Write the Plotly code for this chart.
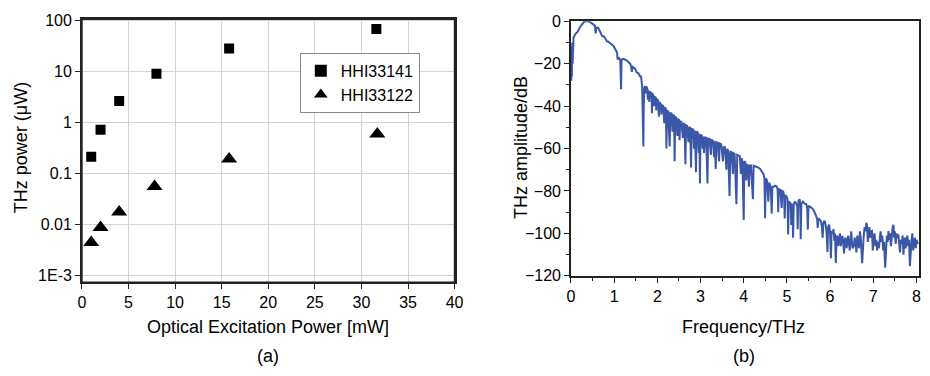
import plotly.graph_objects as go

# ---- Panel (a) data ----
power_mw = [1, 2, 4, 8, 15.8, 31.6]
hhi33141 = [0.21, 0.71, 2.6, 8.9, 28, 67]
power_mw_b = [1, 2, 4, 7.8, 15.8, 31.7]
hhi33122 = [0.0044, 0.0087, 0.0174, 0.055, 0.19, 0.59]
ytick_vals_a = [0.001, 0.01, 0.1, 1, 10, 100]
ytick_text_a = ["1E-3", "0.01", "0.1", "1", "10", "100"]

# ---- Panel (b) data: spectrum ----
freq_thz = [
    0.000, 0.008, 0.015, 0.022, 0.030, 0.038, 0.045, 0.060, 0.076, 0.100,
    0.152, 0.200, 0.267, 0.300, 0.343, 0.400, 0.457, 0.533, 0.555, 0.571,
    0.590, 0.632, 0.680, 0.724, 0.760, 0.785, 0.838, 0.860, 0.914, 0.950,
    0.990, 1.030, 1.067, 1.080, 1.105, 1.143, 1.160, 1.172, 1.219, 1.295,
    1.371, 1.390, 1.410, 1.430, 1.486, 1.520, 1.562, 1.600, 1.623, 1.650,
    1.668, 1.676, 1.685, 1.700,
    1.720, 1.735, 1.750, 1.770, 1.780, 1.795, 1.815, 1.830, 1.850, 1.867,
    1.875, 1.885, 1.910, 1.925, 1.940, 1.965, 1.975, 1.990, 2.020, 2.035,
    2.050, 2.080, 2.095, 2.110, 2.140, 2.160, 2.175, 2.200, 2.210, 2.225,
    2.250, 2.270, 2.286, 2.300, 2.330, 2.350, 2.365, 2.390, 2.400, 2.415,
    2.440, 2.465, 2.480, 2.500, 2.514, 2.530, 2.560, 2.590, 2.605, 2.630,
    2.651, 2.665, 2.690, 2.720, 2.735, 2.760, 2.781, 2.795, 2.830, 2.850,
    2.870, 2.895, 2.910, 2.940, 2.960, 2.975, 2.987, 3.000, 3.030, 3.050,
    3.065, 3.080, 3.100, 3.130, 3.162, 3.175, 3.210, 3.240, 3.255, 3.290,
    3.314, 3.330, 3.352, 3.370, 3.400, 3.430, 3.445, 3.480, 3.520, 3.540,
    3.570, 3.600, 3.615, 3.640, 3.672, 3.690, 3.720, 3.750, 3.765, 3.790,
    3.810, 3.832, 3.850, 3.880, 3.910, 3.935, 3.950, 3.970, 4.000, 4.015,
    4.040, 4.060, 4.076, 4.100, 4.120, 4.140, 4.170, 4.190, 4.213, 4.230,
    4.260, 4.300, 4.340, 4.381, 4.420, 4.440, 4.457, 4.480, 4.495, 4.510,
    4.540, 4.570, 4.590, 4.610, 4.630, 4.648, 4.665, 4.700, 4.730, 4.762,
    4.785, 4.800, 4.815, 4.850, 4.880, 4.895, 4.914, 4.935, 4.950, 4.965,
    4.990, 5.015, 5.029, 5.045, 5.067, 5.090, 5.100, 5.115, 5.130, 5.143,
    5.160, 5.190, 5.219, 5.240, 5.250, 5.265, 5.295, 5.310, 5.320, 5.335,
    5.370, 5.410, 5.448, 5.470, 5.486, 5.500, 5.540, 5.570, 5.600, 5.640,
    5.676, 5.700, 5.714, 5.730, 5.760, 5.790, 5.810, 5.829, 5.845, 5.870,
    5.900, 5.920, 5.940, 5.955, 5.981, 6.000, 6.020, 6.035, 6.060, 6.080,
    6.100, 6.115, 6.133, 6.150, 6.170, 6.190, 6.210, 6.230, 6.250, 6.270,
    6.286, 6.305, 6.324, 6.340, 6.360, 6.380, 6.400, 6.420, 6.438, 6.455,
    6.470, 6.490, 6.500, 6.520, 6.550, 6.570, 6.590, 6.610, 6.630, 6.650,
    6.670, 6.690, 6.710, 6.743, 6.760, 6.780, 6.800, 6.820, 6.840, 6.857,
    6.875, 6.890, 6.910, 6.930, 6.950, 6.971, 6.990, 7.010, 7.030, 7.050,
    7.070, 7.090, 7.110, 7.130, 7.150, 7.170, 7.190, 7.210, 7.230, 7.250,
    7.276, 7.295, 7.315, 7.335, 7.352, 7.370, 7.390, 7.410, 7.430, 7.450,
    7.467, 7.485, 7.500, 7.520, 7.540, 7.560, 7.581, 7.600, 7.620, 7.640,
    7.660, 7.680, 7.700, 7.715, 7.733, 7.750, 7.770, 7.790, 7.810, 7.830,
    7.848, 7.865, 7.886, 7.905, 7.925, 7.945, 7.965, 7.985, 8.005, 8.030,
]
amp_db = [
    -22.0, -28.0, -12.0, -26.0, -10.0, -20.0, -8.5, -7.5, -7.0, -6.0,
    -5.0, -3.0, -1.2, -0.3, 0.0, 0.0, -0.5, -1.5, -2.0, -5.7,
    -3.0, -3.0, -5.5, -7.0, -7.0, -8.0, -9.5, -9.5, -10.2, -11.0,
    -11.7, -13.5, -14.7, -18.0, -17.0, -18.5, -32.0, -18.0, -17.7, -18.5,
    -20.0, -21.0, -23.8, -21.5, -22.3, -24.0, -24.5, -26.0, -26.0, -31.0,
    -58.0, -59.0, -40.0, -31.3,
    -30.5, -34.0, -30.8, -32.0, -37.0, -32.5, -38.0, -33.0, -34.0, -33.5,
    -43.3, -34.0, -35.0, -40.0, -35.5, -36.0, -42.0, -36.5, -37.5, -45.0,
    -38.0, -39.0, -44.0, -39.5, -40.0, -48.0, -40.5, -41.5, -60.0, -42.0,
    -42.5, -50.0, -59.0, -43.3, -43.5, -52.0, -44.0, -44.5, -66.0, -45.0,
    -45.5, -54.0, -46.0, -46.5, -56.0, -47.0, -47.5, -55.0, -48.0, -48.5,
    -67.4, -49.0, -49.3, -57.0, -49.8, -50.2, -68.9, -50.5, -51.0, -60.0,
    -51.5, -71.1, -52.0, -52.5, -62.0, -53.0, -76.4, -53.5, -54.0, -60.0,
    -54.3, -62.0, -54.5, -55.0, -76.4, -55.3, -55.5, -63.0, -56.0, -56.3,
    -64.0, -56.5, -69.6, -57.0, -57.3, -66.0, -57.6, -58.0, -66.0, -59.0,
    -59.5, -70.0, -60.3, -60.8, -82.4, -61.3, -61.8, -72.0, -62.2, -62.5,
    -72.0, -86.2, -63.0, -63.3, -63.6, -72.0, -64.5, -66.0, -93.7, -66.0,
    -66.5, -75.0, -67.4, -68.0, -78.0, -68.0, -68.0, -76.0, -83.9, -68.1,
    -68.3, -68.5, -69.0, -69.6, -70.5, -71.5, -71.9, -74.0, -92.9, -74.0,
    -75.0, -85.0, -76.0, -77.1, -80.0, -90.7, -78.0, -78.0, -77.5, -77.9,
    -79.0, -90.0, -79.0, -79.5, -88.0, -80.0, -80.2, -82.0, -93.0, -82.0,
    -82.5, -84.0, -100.5, -85.0, -85.4, -86.0, -96.0, -86.0, -88.0, -102.0,
    -86.0, -85.0, -86.2, -87.0, -98.0, -85.0, -83.9, -86.0, -102.7, -86.0,
    -85.0, -86.0, -86.2, -88.0, -98.2, -87.0, -87.5, -88.0, -88.4, -90.0,
    -91.4, -93.0, -97.4, -93.0, -93.5, -94.4, -97.0, -102.0, -95.0, -94.0,
    -96.0, -100.0, -108.7, -97.0, -95.9, -100.0, -111.7, -99.0, -100.0, -98.0,
    -103.5, -100.0, -114.0, -102.0, -101.0, -106.0, -103.0, -100.0, -106.0, -103.0,
    -101.2, -104.0, -109.5, -103.0, -102.0, -107.0, -105.0, -101.0, -103.5, -108.0,
    -104.0, -99.0, -102.0, -107.0, -106.0, -102.0, -104.2, -109.0, -101.0, -104.0,
    -107.0, -99.0, -102.0, -114.0, -105.0, -101.0, -97.0, -99.0, -95.0, -96.7,
    -104.0, -100.0, -97.0, -102.0, -99.0, -98.9, -108.0, -102.0, -100.0, -106.0,
    -103.0, -108.0, -104.0, -107.0, -101.0, -99.0, -104.0, -101.0, -108.0, -104.0,
    -116.2, -106.0, -101.0, -104.0, -98.9, -103.0, -100.0, -106.0, -99.0, -97.0,
    -96.0, -102.0, -99.0, -105.0, -100.0, -102.0, -100.5, -106.0, -109.0, -103.0,
    -105.0, -101.0, -110.0, -104.0, -102.0, -107.0, -103.0, -101.0, -106.0, -103.0,
    -115.5, -106.0, -103.5, -100.0, -108.0, -104.0, -102.0, -107.0, -103.0, -105.0,
]
assert len(freq_thz) == len(amp_db)

W, H = 930, 376
FONT = "Liberation Sans, Arial, sans-serif"
LINE_BLUE = "#3A57A8"
FRAME = "#222222"

fig = go.Figure()

fig.add_trace(go.Scatter(
    x=power_mw, y=hhi33141, mode="markers", name="HHI33141",
    marker=dict(symbol="square", size=10, color="black"),
    xaxis="x", yaxis="y",
))
fig.add_trace(go.Scatter(
    x=power_mw_b, y=hhi33122, mode="markers", name="HHI33122",
    marker=dict(symbol="triangle-up", size=14, color="black"),
    xaxis="x", yaxis="y",
))
fig.add_trace(go.Scatter(
    x=freq_thz, y=amp_db, mode="lines", showlegend=False,
    line=dict(color=LINE_BLUE, width=2),
    xaxis="x2", yaxis="y2",
))


def xd(a, b):
    return [a / W, b / W]


def yd(top, bottom):
    return [1 - bottom / H, 1 - top / H]


def axis_style():
    return dict(
        showline=True, linecolor=FRAME, linewidth=1.6, mirror=True,
        ticks="outside", ticklen=5, tickwidth=1.2, tickcolor=FRAME,
        tickfont=dict(family=FONT, size=16, color="black"),
        zeroline=False,
    )


fig.update_layout(
    width=W, height=H,
    margin=dict(l=0, r=0, t=0, b=0),
    paper_bgcolor="white", plot_bgcolor="white",
    font=dict(family=FONT, color="black"),
    xaxis=dict(domain=xd(79, 457), range=[0, 40], dtick=5,
               showgrid=True, gridcolor="#d4d4d4", gridwidth=1,
               anchor="y", **axis_style()),
    yaxis=dict(domain=yd(11.7, 287.3), type="log", range=[-3.137, 2.02],
               tickvals=ytick_vals_a, ticktext=ytick_text_a,
               showgrid=True, gridcolor="#d4d4d4", gridwidth=1,
               anchor="x", **axis_style()),
    xaxis2=dict(domain=xd(575, 928), range=[0, 8.06], dtick=1,
                showgrid=False, anchor="y2",
                minor=dict(dtick=0.5, ticks="outside", ticklen=3, tickcolor=FRAME),
                **axis_style()),
    yaxis2=dict(domain=yd(14, 280.5), range=[-120, 0], dtick=20,
                showgrid=False, anchor="x2",
                minor=dict(dtick=10, ticks="outside", ticklen=3, tickcolor=FRAME),
                **axis_style()),
    legend=dict(x=300 / W, y=1 - 47 / H, xanchor="left", yanchor="top",
                bgcolor="white", bordercolor="#888888", borderwidth=1,
                font=dict(family=FONT, size=16, color="black"),
                itemsizing="constant", tracegroupgap=0),
    showlegend=True,
)

# frame around panel (a), drawn in the axis-domain space
fig.add_shape(type="rect", xref="x domain", yref="y domain",
              x0=0, x1=1, y0=0, y1=1, line=dict(color=FRAME, width=1.6),
              layer="above")

ann = dict(xref="paper", yref="paper", showarrow=False,
           font=dict(family=FONT, size=18, color="black"))
fig.add_annotation(text="Optical Excitation Power [mW]", x=268 / W, y=1 - 334 / H,
                   xanchor="center", yanchor="middle", **ann)
fig.add_annotation(text="(a)", x=268 / W, y=1 - 365 / H,
                   xanchor="center", yanchor="middle", **ann)
fig.add_annotation(text="Frequency/THz", x=750 / W, y=1 - 334 / H,
                   xanchor="center", yanchor="middle", **ann)
fig.add_annotation(text="(b)", x=750 / W, y=1 - 365 / H,
                   xanchor="center", yanchor="middle", **ann)
fig.add_annotation(text="THz power (\u03bcW)", x=18 / W, y=1 - 146 / H,
                   textangle=-90, xanchor="center", yanchor="middle", **ann)
fig.add_annotation(text="THz amplitude/dB", x=525 / W, y=1 - 146 / H,
                   textangle=-90, xanchor="center", yanchor="middle", **ann)

fig.write_html("out.html")
